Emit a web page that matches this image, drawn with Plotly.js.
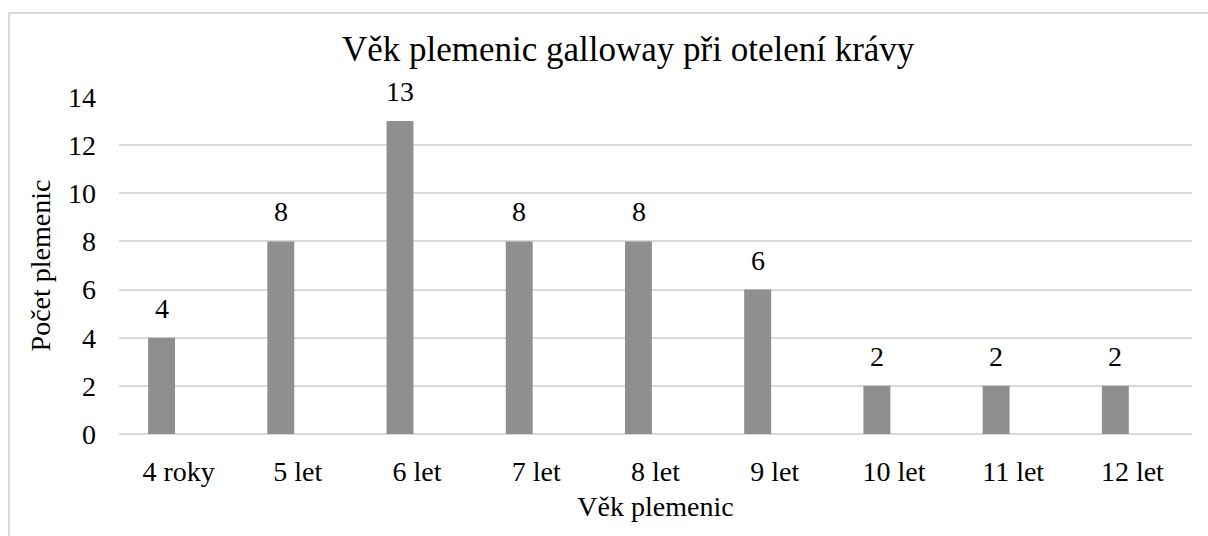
<!DOCTYPE html>
<html>
<head>
<meta charset="utf-8">
<script src="https://cdn.plot.ly/plotly-3.0.1.min.js"></script>
<style>
html,body{margin:0;padding:0;width:1208px;height:536px;overflow:hidden;background:#fff;}
#chart{position:absolute;left:0;top:0;width:1208px;height:536px;}
#frame{position:absolute;left:8px;top:12px;width:1400px;height:700px;border:2px solid #d9d9d9;pointer-events:none;box-sizing:border-box;}
</style>
</head>
<body>
<div id="chart"></div>
<div id="frame"></div>
<script>
const categories = ["4 roky","5 let","6 let","7 let","8 let","9 let","10 let","11 let","12 let"];
const counts = [4, 8, 13, 8, 8, 6, 2, 2, 2];
const yTicks = [0, 2, 4, 6, 8, 10, 12, 14];
const chartTitle = "Věk plemenic galloway při otelení krávy";
const xTitle = "Věk plemenic";
const yTitle = "Počet plemenic";

const FONT = "Liberation Serif";

const trace = {
  type: "bar",
  x: categories,
  y: counts,
  width: 0.226,
  offset: -0.256,
  marker: {color: "#8f8f8f"},
  hoverinfo: "x+y"
};

const annotations = categories.map((c, i) => ({
  x: c, y: counts[i], xref: "x", yref: "y",
  text: String(counts[i]), showarrow: false,
  xanchor: "center", yanchor: "bottom",
  xshift: -17, yshift: 12,
  font: {family: FONT, size: 28, color: "#000"}
}));

const layout = {
  width: 1208, height: 536,
  paper_bgcolor: "#fff", plot_bgcolor: "#fff",
  margin: {l: 119, r: 16, t: 97, b: 102},
  showlegend: false,
  font: {family: FONT, size: 28, color: "#000"},
  title: {
    text: chartTitle,
    font: {family: FONT, size: 35, color: "#000"},
    x: 0.52, xref: "container", xanchor: "center",
    y: 1 - 49/536, yref: "container", yanchor: "middle"
  },
  xaxis: {
    type: "category",
    title: {text: xTitle, font: {family: FONT, size: 28, color: "#000"}, standoff: 10},
    tickfont: {family: FONT, size: 28, color: "#000"},
    showgrid: false, zeroline: false, showline: false,
    ticks: "", ticklabelstandoff: 18,
    range: [-0.5, 8.5]
  },
  yaxis: {
    title: {text: yTitle, font: {family: FONT, size: 28, color: "#000"}, standoff: 9},
    tickfont: {family: FONT, size: 28, color: "#000"},
    range: [0, 14], tickvals: yTicks, ticktext: yTicks.map(String),
    showgrid: true, gridcolor: "#d9d9d9", gridwidth: 2,
    zeroline: true, zerolinecolor: "#d9d9d9", zerolinewidth: 2,
    showline: false, ticks: "", ticklabelstandoff: 22
  },
  annotations: annotations
};

Plotly.newPlot("chart", [trace], layout, {displayModeBar: false, staticPlot: true});
</script>
</body>
</html>
